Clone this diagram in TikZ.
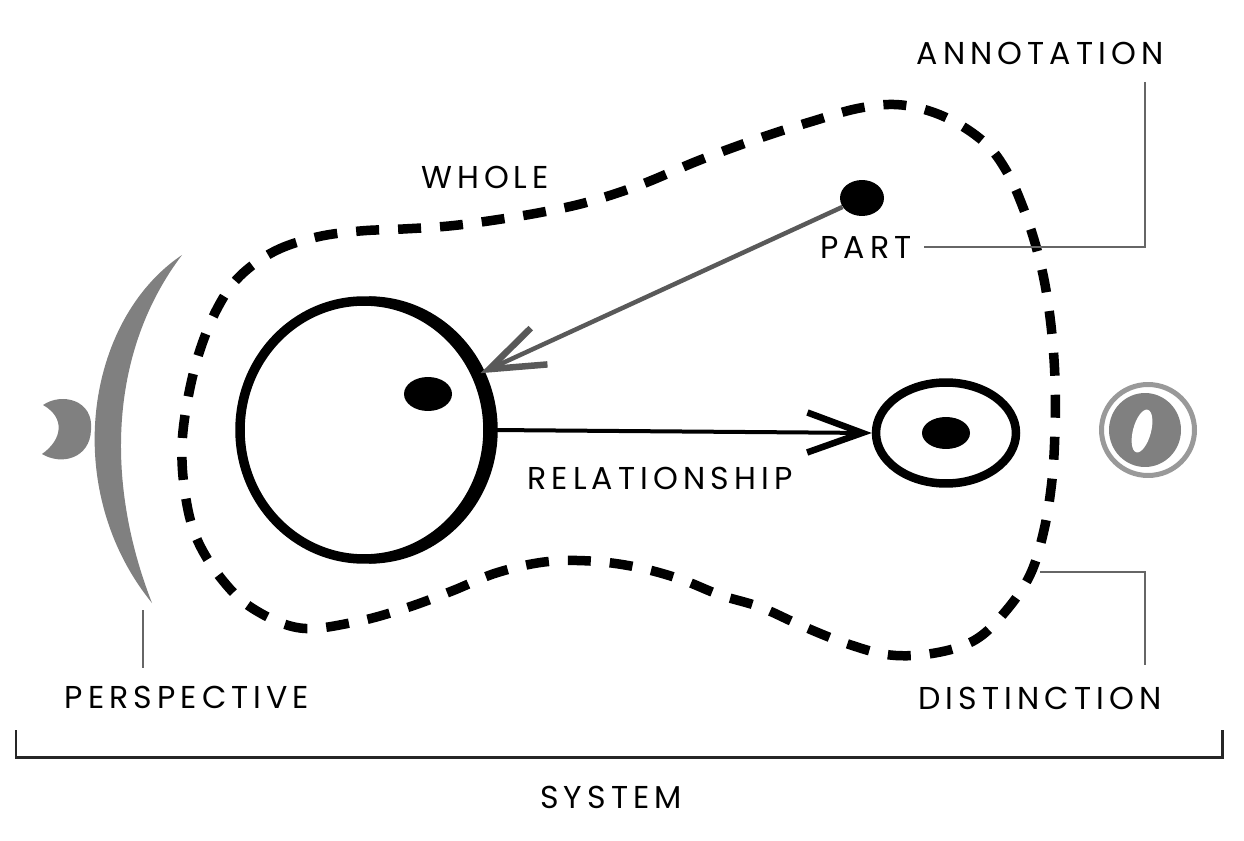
\documentclass[tikz,border=0pt]{standalone}
\usepackage{fontspec}
\setmainfont{Poppins}[LetterSpace=16.0]
\usetikzlibrary{shapes.geometric,arrows.meta}

\tikzset{
  lbl/.style={font=\fontsize{18}{20}\selectfont, inner sep=1pt},
  leader/.style={draw=black!60, line width=0.05cm},
  blob/.style={line width=0.19cm, dash pattern=on 0.46cm off 0.38cm},
  ring/.style={ellipse, draw, line width=0.19cm, inner sep=0pt},
  dot/.style={ellipse, fill, inner sep=0pt},
  barb/.style={-{Straight Barb[length=1.1cm, width=0.8cm, line width=0.13cm]}},
}

\begin{document}
\begin{tikzpicture}[x=0.02cm, y=-0.02cm]
            \useasboundingbox (0,0) rectangle (1244,841);
       %     %%labels
            \node[lbl] (annotation) at (1040,53) {ANNOTATION};
            \node[lbl] (whole) at (485,177) {WHOLE};
            \node[lbl] (part) at (866,247) {PART};
            \node[lbl] (relationship) at (660,478) {RELATIONSHIP};
            \node[lbl] (perspective) at (187,697) {PERSPECTIVE};
            \node[lbl] (distinction) at (1040,698) {DISTINCTION};
            \node[lbl] (system) at (611,797) {SYSTEM};

       %     %%whole (dashed)
            \draw[blob] plot[smooth cycle, tension=0.6] coordinates {
              (240,276) (275,251) (317,237) (360,231) (403,229) (449,226)
              (495,220) (543,212) (588,202) (640,185) (700,160) (760,138)
              (810,122) (860,108) (902,105) (945,117) (984,142) (1007,172)
              (1024,210) (1037,250) (1046,290) (1052,335) (1055,380) (1055,430)
              (1052,480) (1044,530) (1030,575) (1005,612) (975,640) (935,653)
              (890,655) (845,643) (800,625) (760,607) (720,595) (680,579)
              (636,567) (590,561) (544,562) (496,573) (452,591) (406,608)
              (355,622) (300,628) (252,608) (220,577) (196,537) (185,493)
              (182,446) (188,398) (200,350) (218,307)};

       %     %%parts
            \node[ring, minimum width=4.96cm, minimum height=5.16cm] (bigring) at (364,430) {};
            \draw[line width=0.19cm] (369,430) ++(-90:2.48cm and 2.58cm)
              arc[start angle=-90, end angle=90, x radius=2.48cm, y radius=2.58cm];
            \node[dot, minimum width=0.96cm, minimum height=0.68cm] (innerdot) at (428,394) {};
            \node[ring, line width=0.17cm, minimum width=2.8cm, minimum height=2.02cm] (smallring) at (946,433) {};
            \node[dot, minimum width=0.96cm, minimum height=0.64cm] (ringdot) at (946,433) {};
            \node[dot, minimum width=0.88cm, minimum height=0.72cm] (partdot) at (862,198) {};

       %     %%relationships
            \draw[barb, black!65, line width=0.09cm] (partdot) -- (bigring.26);
            \draw[barb, line width=0.08cm] (bigring.east) -- (smallring.west);

       %     %%perspective
            \fill[black!50] (182,255) .. controls (85,320) and (60,490) .. (152,603)
              .. controls (104,480) and (110,350) .. (182,255) -- cycle;
            \fill[black!50] (43,405) .. controls (62,392) and (94,400) .. (91,430)
              .. controls (90,458) and (62,466) .. (42,454)
              .. controls (62,440) and (66,418) .. (43,405) -- cycle;

       %     %%eye on the right
            \draw[black!40, line width=0.1cm] (1148,430) ellipse[x radius=0.93cm, y radius=0.91cm];
            \fill[black!50] (1145,430) ellipse[x radius=0.72cm, y radius=0.74cm];
            \fill[white, rotate around={-15:(1142,431)}] (1142,431) ellipse[x radius=0.18cm, y radius=0.44cm];

       %     %%leaders
            \coordinate (annotation foot) at (1145,82);
            \draw[leader] (annotation foot) |- ([xshift=0.2cm]part.east);
            \coordinate (blob edge) at (1040,572);
            \coordinate (distinction foot) at (1145,665);
            \draw[leader] (blob edge) -| (distinction foot);
            \coordinate (crescent foot) at (143,610);
            \coordinate (perspective foot) at (143,668);
            \draw[leader] (crescent foot) -- (perspective foot);

       %     %%system bracket
            \coordinate (system left) at (16,730);
            \coordinate (system right) at (1222,730);
            \draw[black!85, line width=0.06cm] (system left) -- ++(0,27) -| (system right);
\end{tikzpicture}
\end{document}
